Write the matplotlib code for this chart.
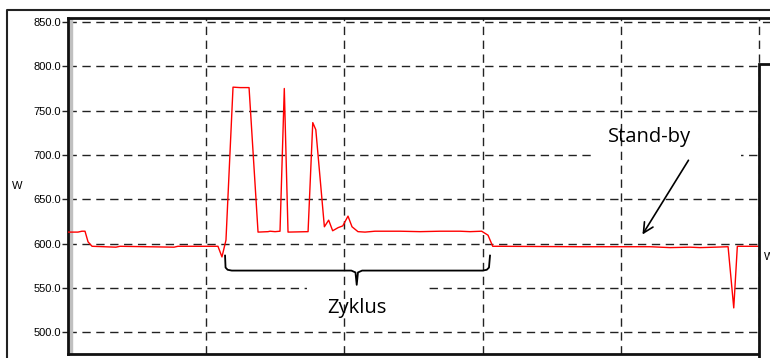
import matplotlib
matplotlib.use("Agg")
import matplotlib.pyplot as plt
from matplotlib.patches import Rectangle
from matplotlib.lines import Line2D

# time in minutes, power in W
t = [0.0, 0.72, 1.01, 1.23, 1.45, 1.74, 3.47, 3.76, 7.67, 7.96,
     10.85, 11.14, 11.43, 11.94, 12.45, 13.10, 13.75, 14.47, 14.62, 14.98,
     15.34, 15.65, 15.92, 17.37, 17.71, 17.93, 18.55, 18.86, 19.15, 19.54,
     19.88, 20.26, 20.55, 20.98, 21.49, 22.21, 24.02, 25.47, 26.92, 28.36,
     29.09, 29.93, 30.39, 30.73, 31.26, 37.05, 42.11, 43.56, 45.01, 45.73,
     46.82, 47.76, 48.17, 48.43, 49.93]
watt = [613, 613, 614, 614, 602, 597, 596, 597, 596, 597,
        597, 585, 604, 776.5, 776, 776, 613, 613.5, 614, 613.5,
        614, 775, 613, 613.5, 736.5, 728.5, 619, 626.5, 614.5, 618,
        620, 631, 619, 613.5, 613, 614, 614, 613.5, 614, 614,
        613.5, 614, 609.5, 597, 597, 596.5, 596.5, 595.5, 596, 595.5,
        596, 596.5, 527.5, 597, 597]

yticks = [500, 550, 600, 650, 700, 750, 800, 850]
xgrid = [10, 20, 30, 40, 50]

W, H = 770, 358
fig = plt.figure(figsize=(W / 100, H / 100), dpi=100)

def fx(px):
    return px / W

def fy(py):
    return 1 - py / H

ax = fig.add_axes([fx(68), fy(354), (790 - 68) / W, (354 - 18) / H])
ax.set_xlim(0, 52.24)
ax.set_ylim(475.5, 854.5)

ax.set_yticks(yticks)
ax.set_yticklabels(["%.1f" % v for v in yticks], family="Liberation Sans", fontsize=8)
ax.set_xticks([])
ax.tick_params(axis="y", length=4, width=1, pad=1, color="#222222")
ax.set_axisbelow(True)
ax.grid(axis="y", color="#222222", linestyle=(0, (6, 4)), linewidth=1)
for gx in xgrid:
    ax.axvline(gx, color="#222222", linestyle=(0, (6, 4)), linewidth=1, zorder=2)

for s in ["left", "bottom", "top"]:
    ax.spines[s].set_linewidth(2)
    ax.spines[s].set_color("#111111")
ax.spines["right"].set_visible(False)

ax.axvspan(0, 0.3, color="#c0c0c0", zorder=1)

# white boxes behind the annotation text
ax.add_patch(Rectangle((17.3, 522), 8.8, 32, facecolor="white", edgecolor="none", zorder=1))
ax.add_patch(Rectangle((37.9, 692), 10.8, 40, facecolor="white", edgecolor="none", zorder=1))

ax.plot(t, watt, color="#ff0000", linewidth=1, zorder=3)

# brace under the cycle
bx = [11.36, 11.40, 11.55, 11.85, 20.5, 20.8, 20.89, 20.98, 21.28, 30.0, 30.3, 30.46, 30.54]
by = [587.5, 573, 570.5, 569.6, 569.6, 567.5, 553.5, 567.5, 569.6, 569.6, 570.5, 573, 587.5]
ax.plot(bx, by, color="black", linewidth=1.3, zorder=4, solid_capstyle="butt")

ax.text(20.91, 527.6, "Zyklus", family="Open Sans", fontsize=14.5,
        ha="center", va="center", zorder=5)
ax.text(42.04, 720.3, "Stand-by", family="Open Sans", fontsize=14.5,
        ha="center", va="center", zorder=5)
ax.annotate("", xy=(41.46, 607.6), xytext=(45.0, 696.7),
            arrowprops=dict(arrowstyle="->", color="black", lw=1.2,
                            mutation_scale=18), zorder=5)

# outer window frame
fig.add_artist(Line2D([fx(7), fx(7), fx(775)], [fy(360), fy(10), fy(10)],
                      color="#222222", linewidth=1.5))
fig.text(fx(12), fy(186), "W", family="Liberation Sans", fontsize=8,
         ha="left", va="center")

# neighbouring window on the right
fig.add_artist(Rectangle((fx(759), fy(362)), (30) / W, (362 - 64) / H,
                         facecolor="white", edgecolor="#111111", linewidth=2))
fig.text(fx(764), fy(257), "W", family="Liberation Sans", fontsize=8,
         ha="left", va="center")

fig.savefig("out.png", dpi=100)
